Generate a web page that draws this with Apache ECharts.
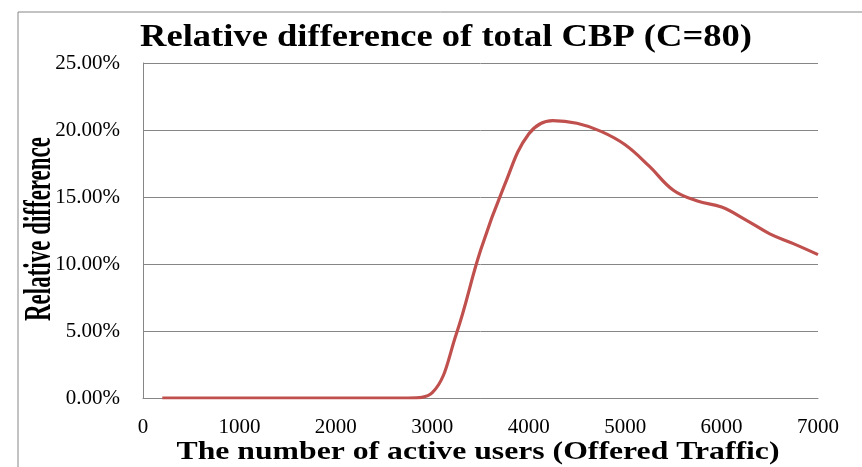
<!DOCTYPE html>
<html>
<head>
<meta charset="utf-8">
<script src="https://cdn.jsdelivr.net/npm/echarts@6/dist/echarts.min.js"></script>
<style>
  html, body { margin: 0; padding: 0; background: #fff; }
  #chart { width: 862px; height: 467px; }
</style>
</head>
<body>
<div id="chart"></div>
<script>
// Offered traffic (number of active users) and relative CBP difference in percent
const users = [200, 500, 1000, 1500, 2000, 2500, 2750, 3000, 3250, 3500, 3750, 4000, 4250, 4500, 4750,
               5000, 5250, 5500, 5750, 6000, 6250, 6500, 6750, 7000];
const relDiff = [0, 0, 0, 0, 0, 0, 0, 0.4, 4.8, 11.0, 15.9, 19.7, 20.7, 20.5, 19.9,
                 18.9, 17.3, 15.5, 14.7, 14.25, 13.3, 12.25, 11.5, 10.7];

const xTicks = [0, 1000, 2000, 3000, 4000, 5000, 6000, 7000];
const yTicks = [0, 5, 10, 15, 20, 25];

const titleText = 'Relative difference of total CBP (C=80)';
const xName = 'The number of active users (Offered Traffic)';
const yName = 'Relative difference';

const FONT = '"Liberation Serif", "Times New Roman", serif';

// width-fitted text: scale a bold serif string horizontally to a given span
const ctx = document.createElement('canvas').getContext('2d');
function fitScale(text, font, span) {
  ctx.font = font;
  return span / ctx.measureText(text).width;
}

const titleFont = 'bold 31px ' + FONT;
const xNameFont = 'bold 26px ' + FONT;
const yNameFont = 'bold 37px ' + FONT;

const chart = echarts.init(document.getElementById('chart'), null, { renderer: 'canvas' });

chart.setOption({
  backgroundColor: '#fff',
  animation: false,
  grid: { left: 143, right: 44, top: 63, bottom: 69, containLabel: false },
  xAxis: {
    type: 'value',
    min: xTicks[0],
    max: xTicks[xTicks.length - 1],
    interval: 1000,
    axisLine: { show: true, lineStyle: { color: '#868686', width: 1 } },
    axisTick: { show: false },
    splitLine: { show: false },
    axisLabel: { color: '#000', fontFamily: FONT, fontSize: 21, margin: 19, formatter: v => String(v) }
  },
  yAxis: {
    type: 'value',
    min: yTicks[0],
    max: yTicks[yTicks.length - 1],
    interval: 5,
    axisLine: { show: true, lineStyle: { color: '#868686', width: 1 } },
    axisTick: { show: false },
    splitLine: { show: true, lineStyle: { color: '#868686', width: 1 } },
    axisLabel: {
      color: '#000', fontFamily: FONT, fontSize: 21, margin: 23,
      formatter: v => v.toFixed(2) + '%'
    }
  },
  series: [{
    type: 'line',
    data: users.map((u, i) => [u, relDiff[i]]),
    smooth: 0.4,
    symbol: 'none',
    lineStyle: { color: '#C0504D', width: 3.2 },
    itemStyle: { color: '#C0504D' }
  }],
  graphic: [
    {
      type: 'rect',
      shape: { x: 18, y: 12, width: 900, height: 500 },
      style: { fill: 'none', stroke: '#868686', lineWidth: 1 },
      silent: true
    },
    {
      type: 'text',
      x: 446, y: 38,
      scaleX: fitScale(titleText, titleFont, 612),
      style: { text: titleText, font: titleFont, fill: '#000', align: 'center', verticalAlign: 'middle' }
    },
    {
      type: 'text',
      x: 478, y: 452,
      scaleX: fitScale(xName, xNameFont, 603),
      style: { text: xName, font: xNameFont, fill: '#000', align: 'center', verticalAlign: 'middle' }
    },
    {
      type: 'text',
      x: 40, y: 229,
      rotation: Math.PI / 2,
      scaleX: fitScale(yName, yNameFont, 184),
      style: { text: yName, font: yNameFont, fill: '#000', align: 'center', verticalAlign: 'middle' }
    }
  ]
});
</script>
</body>
</html>
